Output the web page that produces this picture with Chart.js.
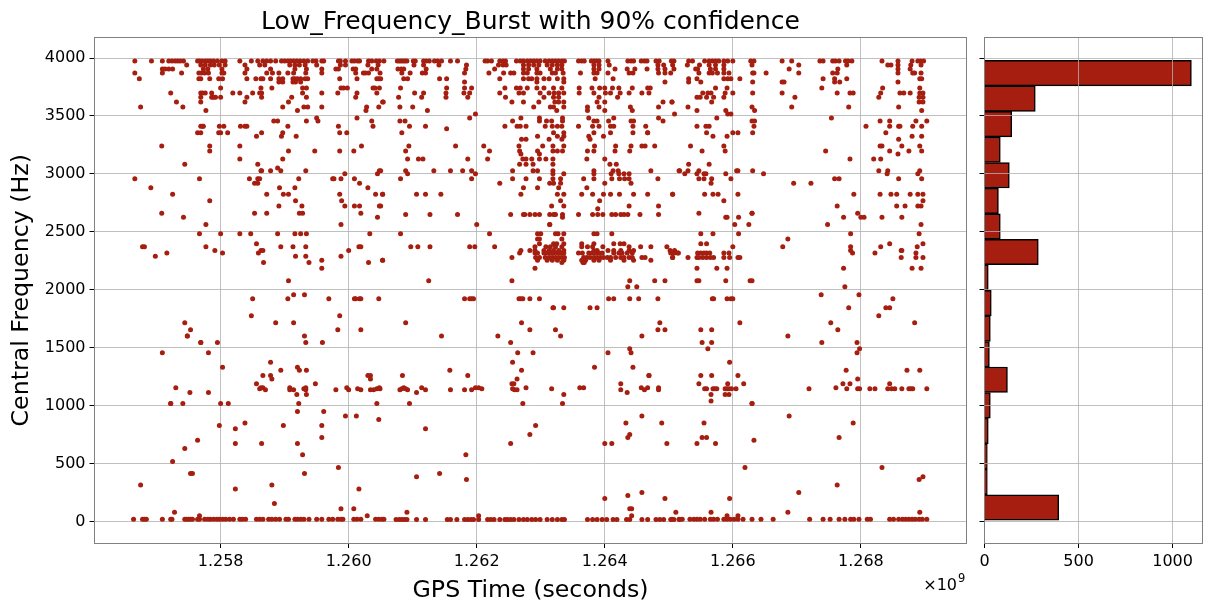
<!DOCTYPE html>
<html>
<head>
<meta charset="utf-8">
<title>Low_Frequency_Burst</title>
<script src="https://cdn.jsdelivr.net/npm/chart.js@4"></script>
<style>
  body { margin: 0; background: #fff; }
  canvas { position: absolute; top: 0; }
  #scatter { left: 0; }
  #hist { left: 970px; }
</style>
</head>
<body>
<canvas id="scatter" width="975" height="611"></canvas>
<canvas id="hist" width="241" height="611"></canvas>
<script>
// GPS time is kept in units of 1e6 s, each row is [frequency (Hz), times...]
const bandTop = [
  [3975, 1256.66,1256.92,1257.09,1257.19,1257.24,1257.29,1257.33,1257.37,1257.42,1257.64,1257.67,1257.71,1257.76,1257.80,1257.84,1257.89,1257.95,1258.02,1258.07,1258.30,1258.48,1258.58,1258.66,1258.72,1258.78,1258.86,1258.95,1259.00,1259.05,1259.09,1259.14,1259.19,1259.24,1259.30,1259.36,1259.44,1259.49,1259.58,1259.61,1259.84,1259.87,1259.95,1260.05,1260.09,1260.14,1260.17,1260.31,1260.36,1260.43,1260.48,1260.55,1260.76,1260.79,1260.82,1260.85,1260.88,1260.91,1261.01,1261.04,1261.17,1261.21,1261.26,1261.34,1261.39,1261.45,1261.59,1261.70,1262.13,1262.17,1262.23,1262.36,1262.41,1262.45,1262.62,1262.68,1262.73,1262.79,1262.84,1262.89,1262.94,1262.99,1263.07,1263.13,1263.18,1263.23,1263.28,1263.33,1263.37,1263.59,1263.64,1263.68,1263.79,1263.83,1263.87,1263.91,1264.05,1264.36,1264.41,1264.45,1264.57,1264.62,1264.66,1264.80,1264.85,1265.04,1265.08,1265.31,1265.37,1265.56,1265.63,1265.68,1265.73,1265.78,1265.86,1265.92,1266.00,1266.28,1266.33,1266.77,1266.92,1267.36,1267.41,1267.56,1267.60,1267.66,1267.76,1267.80,1267.86,1268.33,1268.58,1268.80,1268.89,1268.93,1268.98],
  [3940, 1257.47,1257.69,1257.76,1257.84,1257.90,1257.98,1258.07,1258.38,1258.61,1258.69,1259.08,1259.16,1259.23,1259.32,1259.50,1259.87,1259.95,1260.30,1260.46,1261.02,1261.17,1261.41,1261.84,1262.34,1262.41,1262.46,1262.73,1262.81,1262.89,1262.97,1263.10,1263.18,1263.26,1263.33,1263.83,1263.91,1264.07,1264.83,1264.92,1265.06,1265.29,1265.48,1265.63,1265.73,1265.86,1266.30,1267.03,1267.78,1268.42,1268.47,1268.58,1268.78,1268.94],
  [3905, 1257.09,1257.13,1257.19,1257.25,1257.73,1257.80,1258.02,1258.41,1258.78,1259.16,1259.34,1259.58,1259.80,1259.84,1260.07,1260.11,1260.36,1260.44,1260.77,1260.82,1260.86,1261.21,1261.83,1262.28,1262.73,1262.81,1262.94,1263.15,1263.26,1263.33,1263.83,1263.91,1264.16,1264.35,1264.47,1264.66,1264.83,1264.94,1265.08,1265.42,1265.45,1265.65,1265.73,1265.86,1266.88,1267.64,1268.58,1268.77],
  [3870, 1256.66,1257.09,1257.39,1257.66,1257.70,1257.75,1257.81,1258.02,1258.05,1258.38,1258.72,1258.81,1258.91,1259.05,1259.14,1259.33,1259.58,1260.11,1260.23,1260.26,1260.31,1260.49,1260.83,1260.96,1261.15,1261.20,1261.81,1262.19,1262.42,1262.53,1262.58,1262.73,1262.79,1262.94,1262.99,1263.18,1263.23,1263.35,1263.62,1263.83,1263.88,1264.05,1264.38,1264.44,1264.84,1264.94,1265.03,1265.47,1265.63,1265.68,1265.76,1265.86,1265.94,1266.31,1266.33,1266.52,1267.03,1267.56,1267.63,1268.58,1268.81,1268.94,1268.84],
  [3820, 1256.73,1257.66,1257.69,1257.83,1257.97,1258.03,1258.41,1258.55,1258.63,1258.66,1258.78,1258.91,1258.97,1259.13,1259.16,1259.20,1259.25,1259.32,1259.36,1259.86,1260.13,1260.44,1260.47,1260.50,1260.86,1260.92,1261.42,1261.53,1262.36,1262.73,1262.81,1262.86,1262.94,1263.05,1263.13,1263.26,1263.36,1263.85,1264.13,1265.31,1265.44,1265.86,1265.92,1265.97,1266.11,1267.41,1267.59,1267.78,1268.92,1268.95],
  [3792, 1258.91,1258.97,1259.13,1259.17,1259.25,1261.81,1262.94,1263.36,1264.94,1265.31,1265.50,1266.31,1266.77,1266.80,1267.59,1267.67,1268.58],
  [3741, 1258.00,1258.63,1258.80,1259.28,1259.34,1259.88,1259.92,1259.98,1260.38,1260.41,1260.48,1260.81,1261.53,1261.81,1261.92,1262.44,1262.62,1262.68,1262.79,1262.94,1263.05,1263.20,1263.33,1263.60,1263.80,1263.92,1264.00,1264.12,1264.22,1264.43,1264.67,1264.71,1265.73,1265.91,1267.39,1268.34,1268.92],
  [3698, 1257.22,1257.69,1257.72,1257.76,1257.86,1258.19,1258.30,1258.50,1258.61,1258.64,1259.28,1259.58,1259.83,1260.13,1260.44,1261.03,1261.17,1261.52,1261.80,1261.89,1262.36,1262.66,1262.73,1262.99,1263.13,1263.21,1263.28,1263.36,1263.60,1263.83,1264.01,1264.09,1264.24,1264.38,1264.58,1264.69,1265.53,1265.61,1265.66,1265.88,1266.00,1266.31,1266.77,1267.63,1267.83,1267.88,1268.31,1268.61,1268.67,1268.77,1268.92,1268.97],
  [3662, 1257.69,1257.86,1257.89,1257.92,1258.00,1258.41,1258.64,1259.11,1259.34,1260.11,1260.78,1261.14,1261.52,1261.86,1262.45,1263.05,1263.20,1263.28,1263.91,1264.20,1265.44,1265.49,1265.59,1265.70,1265.86,1266.97,1268.28,1268.91,1268.97],
  [3620, 1257.31,1257.69,1258.38,1259.06,1260.53,1260.54,1262.55,1262.73,1262.97,1263.22,1263.28,1263.36,1263.88,1264.00,1264.91,1265.05,1265.05,1265.67,1268.91,1268.97],
  [3578, 1256.75,1257.41,1258.97,1259.30,1259.36,1259.58,1260.28,1260.47,1260.80,1261.00,1262.89,1263.15,1263.20,1263.36,1263.73,1263.91,1264.40,1264.84,1265.30,1266.30,1266.92,1267.81,1268.59],
  [3546, 1257.77,1259.20,1260.27,1261.23,1263.25,1263.73,1264.00,1264.43,1265.44,1265.89,1266.34,1268.95],
  [3517, 1261.98,1265.09,1265.92,1265.97]
];

const bandUpper = [
  [3483, 1259.50,1260.13,1261.89,1262.69,1262.98,1263.34,1263.75,1264.14,1264.84,1265.75,1267.54],
  [3457, 1258.83,1258.89,1259.34,1259.52,1260.36,1260.80,1260.88,1262.56,1262.98,1263.09,1263.17,1263.34,1263.83,1263.88,1264.06,1264.41,1264.45,1264.91,1266.30,1266.34,1268.30,1268.45,1268.86,1269.03],
  [3412, 1257.69,1257.72,1257.73,1257.98,1258.05,1258.31,1258.38,1258.41,1259.05,1259.84,1260.38,1260.95,1261.20,1262.44,1262.63,1262.68,1262.77,1263.07,1263.18,1263.26,1263.33,1263.59,1263.81,1263.91,1264.09,1264.14,1264.44,1264.64,1265.44,1265.58,1265.63,1266.33,1268.08,1268.45,1268.59,1268.61,1268.81,1268.95],
  [3390, 1261.53],
  [3355, 1257.64,1257.69,1257.97,1258.00,1258.11,1258.64,1258.97,1259.86,1259.97,1260.83,1263.20,1263.36,1263.83,1264.09,1264.44,1264.67,1264.67,1265.59,1266.00,1266.08,1266.31,1268.39],
  [3325, 1258.56,1258.95,1259.18,1262.95,1263.26,1263.36,1263.75,1263.98,1265.69,1265.91,1268.80,1268.95],
  [3298, 1262.70,1262.77,1263.13,1263.33,1263.77,1268.59],
  [3240, 1257.08,1257.83,1258.30,1260.20,1260.94,1261.67,1262.11,1262.66,1263.03,1263.19,1263.36,1263.84,1264.17,1264.41,1264.58,1264.63,1264.78,1265.34,1265.86,1268.30,1268.33,1268.64,1268.92],
  [3198, 1257.83,1259.06,1259.47,1259.86,1260.08,1260.89,1262.20,1262.67,1262.95,1263.19,1263.26,1263.34,1263.73,1263.83,1264.16,1264.39,1265.52,1265.88,1267.45,1268.45,1268.75,1268.95],
  [3172, 1262.69,1262.98,1268.58],
  [3129, 1258.30,1258.97,1260.92,1261.09,1261.16,1261.86,1262.17,1262.72,1262.77,1262.86,1262.98,1263.08,1263.19,1263.72,1264.00,1267.83,1268.20,1268.31],
  [3084, 1257.44,1258.58,1262.67,1262.77,1262.88,1263.19,1264.08,1264.18,1265.31,1265.63],
  [3050, 1258.89],
  [3026, 1258.63,1258.64,1258.78,1258.94,1259.33,1260.48,1260.50,1260.89,1261.33,1261.59,1261.78,1261.92,1262.56,1262.88,1262.95,1263.19,1263.83,1264.13,1264.21,1264.72,1265.16,1265.17,1265.30,1265.47,1266.06,1266.08,1266.31,1268.28,1268.42,1268.92],
  [3000, 1259.94,1260.45,1260.92,1261.98,1263.19,1263.36,1263.83,1264.10,1264.22,1264.30,1264.38,1265.25,1265.44,1265.55,1265.58,1265.89,1266.48,1268.41,1268.89],
  [2957, 1256.66,1257.67,1258.45,1258.58,1258.61,1259.22,1259.75,1259.77,1259.88,1260.09,1260.81,1261.92,1262.56,1262.77,1262.98,1263.19,1263.31,1263.67,1263.83,1264.11,1264.23,1264.31,1264.38,1264.83,1265.47,1265.55,1265.67,1265.97,1267.59,1267.66,1268.59,1268.95],
  [2920, 1258.53,1258.58,1260.17,1262.36,1263.14,1263.20,1263.31,1264.00,1264.41,1265.66,1266.95,1267.22],
  [2880, 1256.91,1258.92,1259.16,1260.30,1262.73,1262.95,1263.28,1263.72],
  [2825, 1257.25,1258.72,1258.98,1259.06,1259.86,1260.42,1260.53,1260.53,1261.06,1261.20,1261.44,1262.69,1263.26,1263.36,1263.64,1263.81,1263.98,1264.09,1264.23,1264.45,1264.67,1265.06,1265.06,1265.56,1265.69,1265.77,1266.08,1267.89,1268.30,1268.47,1268.56,1268.77,1268.89,1268.97],
  [2767, 1257.83,1259.17,1259.89,1263.31,1263.92,1265.86,1268.97],
  [2722, 1258.91,1259.27,1259.94,1260.09,1260.17,1260.48,1260.50,1263.17,1263.36,1264.38,1264.84,1267.63,1268.56,1268.69,1268.89,1268.94],
  [2700, 1263.89],
  [2660, 1257.08,1258.53,1258.72,1259.23,1259.28,1260.19,1265.47,1266.30,1266.30,1267.95],
  [2650, 1260.89,1261.27,1261.70,1262.53,1262.73,1262.75,1262.83,1262.91,1262.98,1263.14,1263.20,1263.23,1263.34,1263.59,1263.81,1263.89,1263.97,1264.11,1264.17,1264.25,1264.30,1264.36,1264.55,1264.84],
  [2625, 1257.42,1260.45,1263.34,1265.91,1265.89,1266.09,1267.73,1268.00,1268.05,1268.33,1268.64],
  [2562, 1257.77,1259.88,1262.00,1263.14,1263.14,1266.03,1266.25,1267.48,1268.94]
];

const bandMiddle = [
  [2484, 1257.67,1258.00,1258.30,1258.47,1258.89,1259.16,1259.25,1259.34,1260.33,1260.81,1262.20,1262.95,1263.00,1263.23,1263.27,1263.36,1263.83,1263.88,1264.11,1265.50,1265.69,1266.09,1267.84,1268.91],
  [2438, 1262.95,1262.98,1263.33,1266.86],
  [2396, 1258.56,1262.98,1263.20,1263.25,1263.36,1263.64,1263.83,1264.14,1264.24,1264.30,1265.50,1265.59,1268.45,1268.97],
  [2370, 1256.78,1256.81,1257.77,1258.94,1259.13,1259.33,1260.16,1260.19,1260.97,1261.08,1261.27,1261.89,1261.97,1262.28,1262.91,1263.08,1263.15,1263.23,1263.33,1263.64,1263.73,1263.81,1263.97,1264.38,1264.56,1264.72,1264.97,1266.00,1266.78,1267.84,1268.31,1268.88],
  [2338, 1257.91,1258.63,1258.66,1260.00,1262.69,1262.83,1262.91,1263.05,1263.13,1263.20,1263.28,1263.36,1263.83,1263.88,1264.05,1264.14,1264.25,1264.38,1264.45,1265.02,1265.09,1267.84,1268.63,1268.64],
  [2318, 1257.16,1258.03,1258.59,1262.67,1262.91,1262.95,1263.05,1263.10,1263.15,1263.20,1263.26,1263.31,1263.36,1263.59,1263.65,1263.75,1263.80,1263.85,1263.91,1263.96,1264.14,1264.22,1264.27,1264.35,1264.43,1265.03,1265.06,1265.09,1265.14,1265.15,1265.45,1265.50,1265.55,1265.59,1265.64,1265.86,1265.94,1267.87,1268.22,1268.86],
  [2290, 1256.98,1259.17,1259.33,1259.88],
  [2278, 1262.55,1262.92,1262.98,1263.07,1263.13,1263.18,1263.23,1263.28,1263.33,1263.37,1263.67,1263.72,1263.77,1263.83,1263.88,1263.93,1263.98,1264.04,1264.09,1264.17,1264.25,1264.30,1264.38,1264.43,1264.58,1264.63,1265.06,1265.06,1265.30,1265.44,1265.47,1265.53,1265.59,1265.65,1265.70,1265.86,1265.95,1266.08,1266.11,1268.63,1268.86,1268.97],
  [2255, 1259.58,1260.53,1260.53,1262.95,1263.10,1263.18,1263.26,1263.36,1263.64,1263.70,1263.83,1263.91,1264.09,1264.30,1264.45,1264.72],
  [2235, 1258.67,1259.38,1260.31,1263.33,1263.66,1263.68],
  [2185, 1259.58,1262.91,1265.44,1265.75,1265.91,1267.73,1268.80,1268.94],
  [2077, 1259.06,1261.25,1262.55,1264.39,1264.78,1264.94,1265.44,1265.47,1265.89,1266.27,1266.30],
  [2025, 1264.36,1264.50,1267.75],
  [1957, 1259.14,1259.31,1267.38,1267.97],
  [1923, 1258.50,1259.05,1259.69,1260.09,1260.11,1260.17,1260.19,1260.47,1261.81,1261.89,1261.92,1261.95,1262.66,1262.69,1262.72,1262.83,1262.98,1264.06,1264.14,1264.39,1264.53,1264.83,1265.68,1265.70,1265.91,1265.97,1266.00,1268.50],
  [1845, 1263.19,1263.20,1263.36,1263.77,1263.88,1267.81,1268.45,1268.39],
  [1776, 1258.48,1259.86,1268.28],
  [1716, 1257.44,1258.86,1259.14,1260.89,1262.70,1264.86,1266.11,1267.53,1268.84],
  [1655, 1257.53,1259.83,1260.19,1262.83,1263.23,1264.83,1264.94,1265.50,1265.67,1267.64],
  [1600, 1257.48,1257.48,1259.31,1261.45,1262.33,1263.31,1264.58,1266.86],
  [1545, 1257.69,1257.69,1257.95,1259.33,1259.59,1262.53,1265.52,1265.67,1267.39,1267.94],
  [1490, 1264.39,1265.61,1267.98],
  [1457, 1257.09,1257.81,1262.64,1262.88,1264.05,1264.41,1267.94]
];

const bandLower = [
  [1375, 1258.78,1262.56,1265.95],
  [1330, 1258.03,1259.20,1263.84,1264.44],
  [1305, 1258.94,1259.23,1259.34,1261.58,1262.70,1267.77,1268.72,1268.92],
  [1259, 1258.66,1258.78,1260.30,1260.34,1260.84,1261.86,1264.69,1264.69,1265.50,1265.67,1266.08],
  [1230, 1258.80,1260.34,1262.63,1267.95],
  [1188, 1258.56,1259.48,1262.55,1262.58,1264.25,1265.47,1265.92,1266.17,1267.72,1267.83,1268.45],
  [1155, 1257.30,1258.63,1258.66,1259.08,1259.33,1259.97,1260.48,1260.86,1261.14,1261.98,1262.03,1262.77,1263.61,1263.67,1264.57,1264.67,1264.84,1267.61],
  [1145, 1258.61,1259.30,1260.14,1260.44,1260.49,1260.83,1260.89,1262.08,1262.56,1263.17,1265.56,1265.59,1265.69,1265.72,1265.75,1265.88,1265.91,1265.94,1265.98,1266.05,1267.19,1267.78,1267.95,1267.98,1268.14,1268.22,1268.42,1268.48,1268.53,1268.64,1268.75,1268.78,1268.81,1269.03],
  [1136, 1258.70,1259.08,1259.14,1259.33,1259.80,1260.00,1260.19,1260.34,1260.39,1260.80,1260.92,1261.20,1261.59,1261.81,1261.92,1262.59,1262.63,1264.25,1264.62,1264.84],
  [1112, 1257.52,1257.81,1261.06,1264.35],
  [1095, 1259.19,1259.34,1263.36,1265.66,1265.88,1265.94],
  [1040, 1265.66],
  [1017, 1257.22,1257.22,1257.41,1258.00,1258.12,1259.22,1260.44,1260.95,1262.72,1263.34,1266.30,1266.30],
  [950, 1259.20,1259.61],
  [910, 1259.95,1260.12,1264.58,1266.88],
  [880, 1260.47],
  [850, 1258.38,1264.33,1264.89,1265.55,1267.88],
  [828, 1257.98,1258.98,1259.58,1262.92],
  [800, 1258.23,1261.20],
  [750, 1262.83,1264.39],
  [724, 1259.58,1264.36,1265.52,1265.59,1267.66],
  [700, 1257.64,1266.33],
  [672, 1258.23,1258.64,1259.20,1262.53,1264.00,1264.11,1264.97,1265.44,1265.73],
  [629, 1257.44],
  [575, 1259.28,1261.83],
  [517, 1257.25],
  [465, 1259.84,1266.19,1268.33],
  [414, 1257.53,1257.56,1259.31,1261.42],
  [385, 1261.06,1268.97],
  [362, 1261.84,1268.91],
  [315, 1256.75,1258.80,1267.63],
  [280, 1258.23,1260.16],
  [250, 1267.03,1264.58],
  [224, 1264.36],
  [198, 1264.00,1264.94,1265.95],
  [155, 1258.84],
  [110, 1259.88,1260.08,1264.39,1264.42],
  [80, 1257.28,1260.91,1265.11,1265.66,1268.92,1266.86],
  [50, 1257.67,1260.29,1262.03,1264.42,1265.91,1266.08]
];

const bandBottom = [
  [20, 1256.64,1256.78,1256.81,1256.84,1257.09,1257.22,1257.24,1257.44,1257.47,1257.50,1257.53,1257.56,1257.64,1257.67,1257.75,1257.80,1257.84,1257.89,1257.94,1257.98,1258.03,1258.08,1258.14,1258.20,1258.30,1258.34,1258.39,1258.56,1258.61,1258.66,1258.75,1258.80,1258.86,1258.92,1259.02,1259.06,1259.16,1259.20,1259.25,1259.30,1259.38,1259.50,1259.58,1259.69,1259.75,1259.83,1259.88,1259.91,1260.08,1260.13,1260.19,1260.42,1260.47,1260.52,1260.55],
  [17, 1260.74,1260.79,1260.83,1260.87,1260.91,1261.06,1261.20,1261.54,1261.59,1261.69,1261.81,1261.86,1261.91,1261.95,1262.03,1262.17,1262.22,1262.27,1262.36,1262.44,1262.48,1262.53,1262.58,1262.66,1262.73,1262.79,1262.86,1262.92,1262.99,1263.10,1263.18,1263.26,1263.33,1263.37,1263.73,1263.81,1263.88,1263.96,1264.03,1264.13,1264.19,1264.34,1264.39,1264.58,1264.67,1264.80,1264.86,1264.92,1265.03,1265.08,1265.17],
  [20, 1265.05,1265.16,1265.21,1265.33,1265.39,1265.44,1265.49,1265.56,1265.65,1265.70,1265.76,1265.86,1265.91,1265.96,1266.02,1266.08,1266.16,1266.30,1266.44,1266.63,1267.20,1267.41,1267.52,1267.66,1267.75,1267.84,1267.89,1267.97,1268.10,1268.15,1268.45,1268.51,1268.59,1268.65,1268.70,1268.75,1268.80,1268.85,1268.91,1268.96,1269.03]
];

// horizontal histogram of the frequencies
const binCenters = [3870,3649,3429,3208,2988,2767,2546,2326,2105,1885,1664,1443,1223,1002,782,561,341,120];
const binCounts = [1100,270,145,84,132,74,84,286,20,36,31,26,122,31,20,15,15,395];

const xTicks = [1258,1260,1262,1264,1266,1268];
const yTicks = [0,500,1000,1500,2000,2500,3000,3500,4000];
const histTicks = [0,500,1000];

const BURST_RED = '#a51e0f';
const GRID = 'rgba(176,176,176,0.8)';
const FONT = 'DejaVu Sans';

const points = [];
[bandTop, bandUpper, bandMiddle, bandLower, bandBottom].forEach(band => {
  band.forEach(row => {
    row.slice(1).forEach(t => points.push({ x: t, y: row[0] }));
  });
});

const frame = {
  id: 'frame',
  afterDraw(chart) {
    const a = chart.chartArea;
    const c = chart.ctx;
    const left = Math.floor(a.left);
    const top = Math.floor(a.top);
    c.save();
    c.strokeStyle = '#808080';
    c.lineWidth = 1;
    c.strokeRect(left + 0.5, top + 0.5, Math.floor(a.right) - left, Math.floor(a.bottom) - top);
    c.restore();
  }
};

// the matplotlib style offset label under the right end of the x axis
const offsetText = {
  id: 'offsetText',
  afterDraw(chart) {
    const c = chart.ctx;
    c.save();
    c.fillStyle = '#000';
    c.textBaseline = 'alphabetic';
    c.font = '16px "' + FONT + '"';
    c.textAlign = 'right';
    c.fillText('×10', 957, 590);
    c.font = '11.5px "' + FONT + '"';
    c.textAlign = 'left';
    c.fillText('9', 958, 582);
    c.restore();
  }
};

function setTicks(values) {
  return scale => { scale.ticks = values.map(v => ({ value: v })); };
}

new Chart(document.getElementById('scatter'), {
  type: 'scatter',
  data: {
    datasets: [{
      data: points,
      backgroundColor: BURST_RED,
      borderWidth: 0,
      pointRadius: 2.5
    }]
  },
  plugins: [frame, offsetText],
  options: {
    responsive: false,
    animation: false,
    layout: { padding: { right: 8.5 } },
    plugins: {
      legend: { display: false },
      tooltip: { enabled: false },
      title: {
        display: true,
        fullSize: false,
        text: 'Low_Frequency_Burst with 90% confidence',
        color: '#000',
        font: { family: FONT, size: 25, weight: 'normal', lineHeight: 1 },
        padding: { top: 10, bottom: 2.5 }
      }
    },
    scales: {
      x: {
        type: 'linear',
        min: 1256.03,
        max: 1269.65,
        afterBuildTicks: setTicks(xTicks),
        afterFit: s => { s.height = 68; },
        grid: { color: GRID, tickColor: '#000', tickLength: 5 },
        border: { display: false },
        ticks: {
          color: '#000',
          padding: 4,
          maxRotation: 0,
          font: { family: FONT, size: 16 },
          callback: v => (v / 1000).toFixed(3)
        },
        title: {
          display: true,
          text: 'GPS Time (seconds)',
          color: '#000',
          font: { family: FONT, size: 23.7 },
          padding: { top: 0, bottom: 6 }
        }
      },
      y: {
        type: 'linear',
        min: -186,
        max: 4177,
        afterBuildTicks: setTicks(yTicks),
        afterFit: s => { s.width = 94.5; },
        grid: { color: GRID, tickColor: '#000', tickLength: 5 },
        border: { display: false },
        ticks: {
          color: '#000',
          padding: 4,
          font: { family: FONT, size: 16 },
          callback: v => String(v)
        },
        title: {
          display: true,
          text: 'Central Frequency (Hz)',
          color: '#000',
          font: { family: FONT, size: 23.7 },
          padding: { top: 8, bottom: 0 }
        }
      }
    }
  }
});

new Chart(document.getElementById('hist'), {
  type: 'bar',
  data: {
    datasets: [{
      data: binCenters.map((c, i) => ({ x: binCounts[i], y: c })),
      backgroundColor: BURST_RED,
      borderColor: '#000',
      borderWidth: 1.5,
      barPercentage: 1,
      categoryPercentage: 1
    }]
  },
  plugins: [frame],
  options: {
    indexAxis: 'y',
    responsive: false,
    animation: false,
    layout: { padding: { top: 37.5, right: 8.7 } },
    plugins: {
      legend: { display: false },
      tooltip: { enabled: false }
    },
    scales: {
      x: {
        type: 'linear',
        min: 0,
        max: 1158,
        afterBuildTicks: setTicks(histTicks),
        afterFit: s => { s.height = 68; },
        grid: { color: GRID, tickColor: '#000', tickLength: 5, z: 1 },
        border: { display: false },
        ticks: {
          color: '#000',
          padding: 4,
          maxRotation: 0,
          font: { family: FONT, size: 16 },
          callback: v => String(v)
        }
      },
      y: {
        type: 'linear',
        offset: false,
        min: -186,
        max: 4177,
        afterBuildTicks: setTicks(yTicks),
        afterFit: s => { s.width = 14.5; },
        grid: { offset: false, color: GRID, tickColor: '#000', tickLength: 5, z: 1 },
        border: { display: false },
        ticks: { display: false }
      }
    }
  }
});
</script>
</body>
</html>
